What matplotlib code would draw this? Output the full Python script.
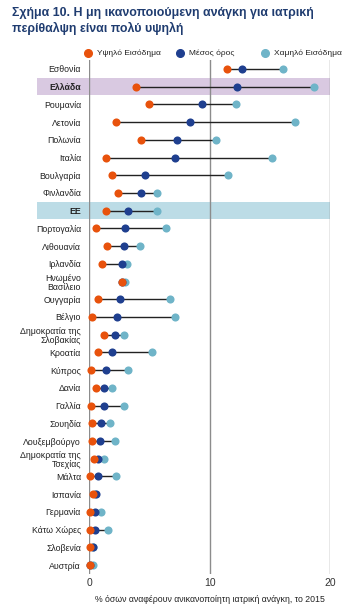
import matplotlib
matplotlib.use("Agg")
import matplotlib.pyplot as plt
from matplotlib.patches import Rectangle
import numpy as np

plt.rcParams['font.family'] = ['Liberation Sans', 'DejaVu Sans']

# Χώρες (από πάνω προς τα κάτω)
countries = ['Εσθονία', 'Ελλάδα', 'Ρουμανία', 'Λετονία', 'Πολωνία', 'Ιταλία',
             'Βουλγαρία', 'Φινλανδία', 'ΕΕ', 'Πορτογαλία', 'Λιθουανία', 'Ιρλανδία',
             'Ηνωμένο\nΒασίλειο', 'Ουγγαρία', 'Βέλγιο', 'Δημοκρατία της\nΣλοβακίας',
             'Κροατία', 'Κύπρος', 'Δανία', 'Γαλλία', 'Σουηδία', 'Λουξεμβούργο',
             'Δημοκρατία της\nΤσεχίας', 'Μάλτα', 'Ισπανία', 'Γερμανία', 'Κάτω Χώρες',
             'Σλοβενία', 'Αυστρία']

high_income = [11.4, 3.9, 5.0, 2.2, 4.3, 1.4, 1.9, 2.4, 1.4, 0.55, 1.5, 1.1,
               2.7, 0.7, 0.25, 1.2, 0.7, 0.15, 0.55, 0.15, 0.25, 0.25,
               0.4, 0.05, 0.3, 0.1, 0.1, 0.1, 0.05]
average = [12.7, 12.3, 9.4, 8.4, 7.3, 7.1, 4.6, 4.3, 3.2, 3.0, 2.9, 2.7,
           2.75, 2.55, 2.3, 2.1, 1.9, 1.4, 1.25, 1.2, 1.0, 0.9,
           0.7, 0.75, 0.55, 0.5, 0.5, 0.3, 0.1]
low_income = [16.1, 18.7, 12.2, 17.1, 10.5, 15.2, 11.5, 5.6, 5.6, 6.4, 4.2, 3.1,
              3.0, 6.7, 7.1, 2.9, 5.2, 3.2, 1.9, 2.9, 1.75, 2.1,
              1.2, 2.2, 0.5, 1.0, 1.55, 0.3, 0.3]

highlight = {'Ελλάδα': '#d9c9e1', 'ΕΕ': '#bcdce6'}

C_HIGH = '#e8520c'
C_AVG = '#1f3f8f'
C_LOW = '#6fb4c8'

fig = plt.figure(figsize=(3.5, 6.1), dpi=100)
ax = fig.add_axes([0.255, 0.0592, 0.688, 0.8423])

y = np.arange(len(countries))
lo = np.minimum(np.minimum(high_income, average), low_income)
hi = np.maximum(np.maximum(high_income, average), low_income)

# Σκίαση γραμμών Ελλάδα / ΕΕ
for name, col in highlight.items():
    i = countries.index(name)
    ax.add_patch(Rectangle((-0.2152, i - 0.48), 1.2152, 0.96, transform=ax.get_yaxis_transform(),
                           facecolor=col, edgecolor='none', zorder=0, clip_on=False))

for gx in [0, 10, 20]:
    ax.axvline(gx, color='#8c8c8c', lw=1.0, zorder=1)

ax.hlines(y, lo, hi, color='#222222', lw=1.0, zorder=2)
ms = 34
ax.scatter(low_income, y, s=ms, color=C_LOW, zorder=3, clip_on=False, linewidths=0)
ax.scatter(average, y, s=ms, color=C_AVG, zorder=4, clip_on=False, linewidths=0)
ax.scatter(high_income, y, s=ms, color=C_HIGH, zorder=5, clip_on=False, linewidths=0)

ax.set_xlim(0, 20)
ax.set_ylim(len(countries) - 0.5, -0.5)
ax.set_yticks(y)
ax.set_yticklabels(countries, fontsize=6.3, linespacing=1.05, color='#222222')
for lbl in ax.get_yticklabels():
    if lbl.get_text() in highlight:
        lbl.set_fontweight('bold')
ax.set_xticks([0, 10, 20])
ax.set_xticklabels(['0', '10', '20'], fontsize=7.5, color='#333333')
ax.tick_params(length=0, pad=3)
ax.tick_params(axis='y', pad=6)
for s in ax.spines.values():
    s.set_visible(False)
ax.set_xlabel('% όσων αναφέρουν ανικανοποίητη ιατρική ανάγκη, το 2015',
              fontsize=6.3, color='#222222', labelpad=5)

# Τίτλος
fig.text(0.035, 0.988, 'Σχήμα 10. Η μη ικανοποιούμενη ανάγκη για ιατρική\nπερίθαλψη είναι πολύ υψηλή',
         fontsize=8.9, fontweight='bold', color='#1f3c70', va='top', ha='left', linespacing=1.3)

# Υπόμνημα
legend_items = [(0.252, C_HIGH, 'Υψηλό Εισόδημα'),
                (0.515, C_AVG, 'Μέσος όρος'),
                (0.758, C_LOW, 'Χαμηλό Εισόδημα')]
for lx, col, txt in legend_items:
    fig.add_artist(plt.Line2D([lx], [1 - 53 / 610], marker='o', markersize=5.5, color=col,
                              linestyle='none', transform=fig.transFigure))
    fig.text(lx + 0.024, 1 - 53 / 610, txt, fontsize=6.0, color='#222222', va='center', ha='left')

fig.savefig('out.png', dpi=100)
